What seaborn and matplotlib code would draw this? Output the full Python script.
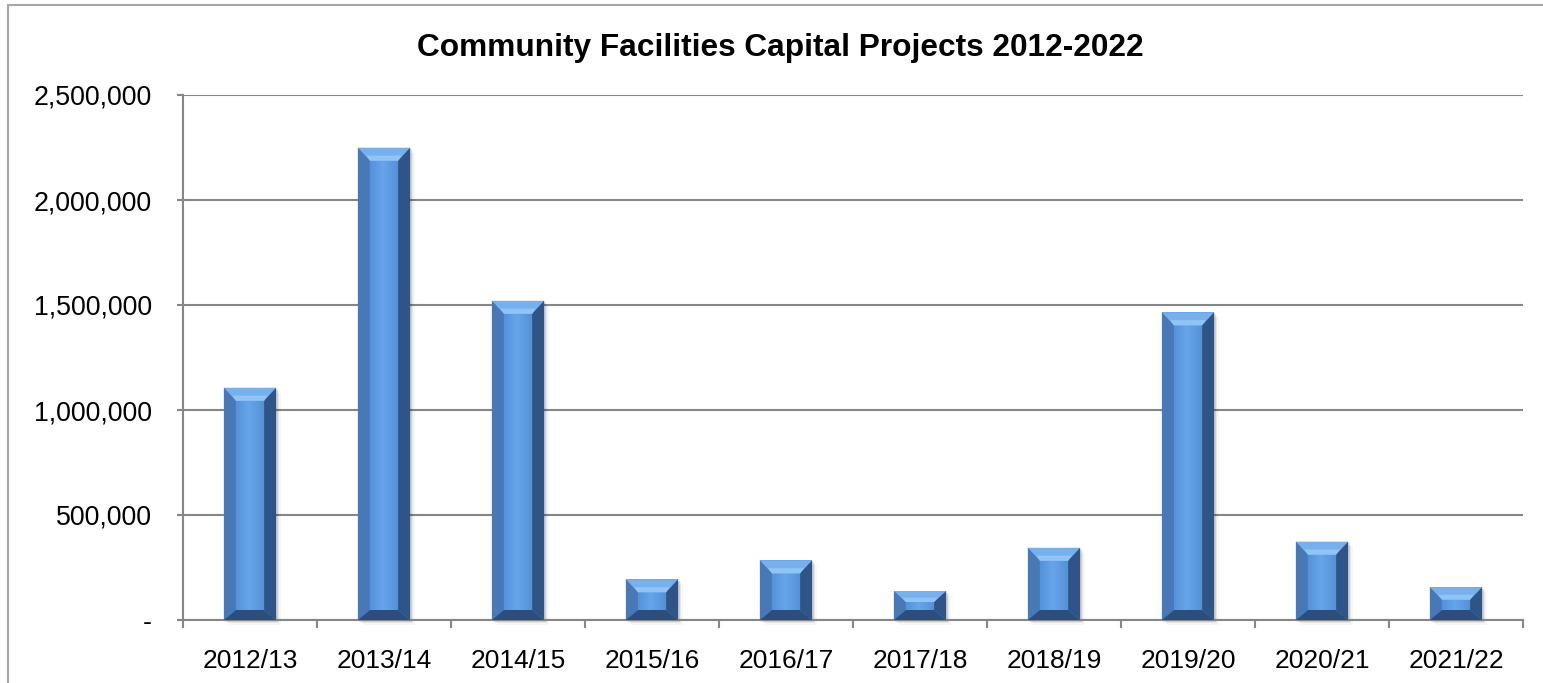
import matplotlib
matplotlib.use("Agg")
import matplotlib.pyplot as plt
from matplotlib.patches import Polygon, Rectangle
from matplotlib.ticker import FuncFormatter, FixedLocator
from matplotlib.colors import to_rgb
import numpy as np
import seaborn as sns
import pandas as pd

# Capital spend per financial year
years = ["2012/13", "2013/14", "2014/15", "2015/16", "2016/17",
         "2017/18", "2018/19", "2019/20", "2020/21", "2021/22"]
spend = [1106000, 2249000, 1520000, 194000, 284000,
         138000, 344000, 1465000, 373000, 156000]
title = "Community Facilities Capital Projects 2012-2022"

sns.set_theme(style="white")
plt.rcParams["font.family"] = ["Liberation Sans", "DejaVu Sans"]

W, H, DPI = 1543, 683, 100
fig = plt.figure(figsize=(W / DPI, H / DPI), dpi=DPI)
ax = fig.add_axes([183 / W, 1 - 620 / H, (1523 - 183) / W, (620 - 95) / H])

df = pd.DataFrame({"year": years, "spend": spend})
face = "#5C9BE0"
sns.barplot(data=df, x="year", y="spend", color=face, saturation=1,
            width=0.39, ax=ax, zorder=3, edgecolor="none")

ax.set_xlim(-0.5, len(years) - 0.5)
ax.set_ylim(0, 2500000)
ax.set_xlabel("")
ax.set_ylabel("")

# pixel -> data conversion for the bevel sizes
px_x = len(years) / (1523 - 183)
px_y = 2500000 / (620 - 95)

top_c, left_c, right_c, bot_c = "#78B0EC", "#4878B6", "#2F5487", "#2D4E7D"
grad_stops = [(0.0, to_rgb("#5290D9")), (0.45, to_rgb("#66A5E9")),
              (1.0, to_rgb("#5590D6"))]


def grad_color(t):
    for (t0, c0), (t1, c1) in zip(grad_stops[:-1], grad_stops[1:]):
        if t <= t1:
            f = (t - t0) / (t1 - t0)
            return tuple(np.array(c0) * (1 - f) + np.array(c1) * f)
    return grad_stops[-1][1]


for p in ax.patches[:len(years)]:
    x0 = p.get_x()
    w = p.get_width()
    h = p.get_height()
    x1 = x0 + w
    hpx = h / px_y
    side = 12.0 * px_x
    tb = min(13.0, hpx * 0.38) * px_y
    bb = min(10.0, hpx * 0.38) * px_y
    # soft drop shadow
    for k, a in enumerate([0.10, 0.06, 0.035]):
        off = (k + 1) * 1.6
        ax.add_patch(Rectangle((x0 + off * px_x, -off * px_y), w, h,
                               facecolor="black", alpha=a, edgecolor="none",
                               zorder=2, clip_on=False))
    # horizontally shaded face
    n = 14
    fx0, fx1 = x0 + side, x1 - side
    sw = (fx1 - fx0) / n
    for i in range(n):
        ax.add_patch(Rectangle((fx0 + i * sw, bb), sw * 1.05, max(h - tb - bb, 0),
                               facecolor=grad_color((i + 0.5) / n),
                               edgecolor="none", zorder=3.5))
    quads = [
        ([(x0, h), (x1, h), (x1 - side, h - tb), (x0 + side, h - tb)], top_c),
        ([(x0, 0), (x0, h), (x0 + side, h - tb), (x0 + side, bb)], left_c),
        ([(x1, 0), (x1, h), (x1 - side, h - tb), (x1 - side, bb)], right_c),
        ([(x0, 0), (x1, 0), (x1 - side, bb), (x0 + side, bb)], bot_c),
    ]
    for pts, c in quads:
        ax.add_patch(Polygon(pts, closed=True, facecolor=c, edgecolor="none",
                             zorder=4))
    # brighter band along the lower part of the top bevel
    ax.add_patch(Polygon([(x0 + side * 0.7, h - tb * 0.6), (x1 - side * 0.7, h - tb * 0.6),
                          (x1 - side, h - tb), (x0 + side, h - tb)], closed=True,
                         facecolor="#8FC4F7", edgecolor="none", zorder=4))

# axes styling
grid_c = "#868686"
ax.set_yticks([0, 500000, 1000000, 1500000, 2000000, 2500000])
ax.yaxis.set_major_formatter(FuncFormatter(lambda v, _: "-" if v == 0 else f"{int(v):,}"))
ax.yaxis.grid(True, color=grid_c, linewidth=1.5, zorder=0)
ax.xaxis.grid(False)
ax.set_axisbelow(True)
for s in ["top", "right"]:
    ax.spines[s].set_visible(False)
for s in ["left", "bottom"]:
    ax.spines[s].set_color(grid_c)
    ax.spines[s].set_linewidth(1.5)
ax.tick_params(axis="y", which="major", left=True, length=4.5, width=1.5,
               color=grid_c, pad=18, labelsize=19.3, labelcolor="black")
ax.tick_params(axis="x", which="major", bottom=False, length=0, pad=21,
               labelsize=19, labelcolor="black")
ax.xaxis.set_minor_locator(FixedLocator([i - 0.5 for i in range(len(years) + 1)]))
ax.tick_params(axis="x", which="minor", bottom=True, length=6, width=1.5,
               color=grid_c)

fig.text(780 / W, 1 - 48 / H, title, ha="center", va="center",
         fontsize=22.8, fontweight="bold", color="black")

# outer frame of the chart area
fig.patches.append(Rectangle((8 / W, -0.2), 1.2, 1 - 5 / H + 0.2,
                             transform=fig.transFigure, fill=False,
                             edgecolor="#A6A6A6", linewidth=1.5))

fig.savefig("out.png", dpi=DPI, facecolor="white")
